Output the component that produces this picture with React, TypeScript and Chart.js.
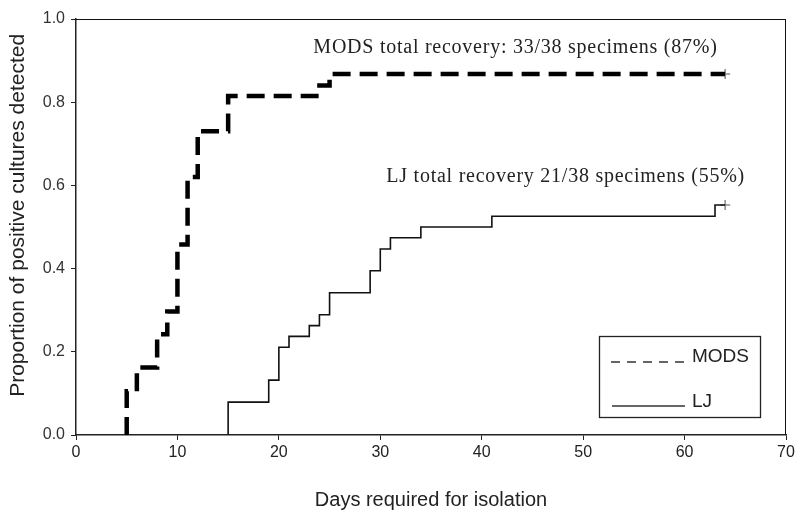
import React, { useEffect, useRef } from 'react';
import { Chart, registerables } from 'chart.js';

Chart.register(...registerables);

// ---- data ----
const modsDays = [5, 5, 6, 8, 9, 10, 11, 12, 15, 24, 25, 64];
const modsValues = [0, 0.105, 0.162, 0.242, 0.297, 0.458, 0.62, 0.73, 0.815, 0.84, 0.868, 0.868];
const ljDays = [15, 15, 19, 20, 21, 23, 24, 25, 29, 30, 31, 34, 41, 63, 64];
const ljValues = [0, 0.079, 0.132, 0.211, 0.237, 0.263, 0.289, 0.342, 0.395, 0.447, 0.474, 0.5, 0.526, 0.553, 0.553];
const censorDays = [64, 64];
const censorValues = [0.868, 0.553];
const seriesLabels = ['MODS', 'LJ'];
const annotationTexts = [
  'MODS total recovery: 33/38 specimens (87%)',
  'LJ total recovery 21/38 specimens (55%)',
];
const xTitle = 'Days required for isolation';
const yTitle = 'Proportion of positive cultures detected';
const xMin = 0;
const xMax = 70;
const xStep = 10;
const yMin = 0;
const yMax = 1;
const yStep = 0.2;

const SANS = '"Liberation Sans", Arial, Helvetica, sans-serif';
const SERIF = '"Liberation Serif", "Times New Roman", Times, serif';

const decorPlugin = {
  id: 'decor',
  afterDatasetsDraw(chart: any) {
    const { ctx, chartArea: a, scales } = chart;
    const xs = scales.x;
    const ys = scales.y;
    ctx.save();
    // frame top & right
    ctx.strokeStyle = '#111';
    ctx.lineWidth = 1;
    ctx.beginPath();
    ctx.moveTo(a.left, a.top + 0.5);
    ctx.lineTo(a.right, a.top + 0.5);
    ctx.moveTo(a.right - 0.5, a.top);
    ctx.lineTo(a.right - 0.5, a.bottom);
    ctx.stroke();

    // annotations
    ctx.fillStyle = '#222';
    ctx.font = '20px ' + SERIF;
    ctx.textBaseline = 'middle';
    ctx.textAlign = 'left';
    try { (ctx as any).letterSpacing = '0.75px'; } catch (e) {}
    ctx.fillText(annotationTexts[0], xs.getPixelForValue(23.4), ys.getPixelForValue(0.931));
    ctx.fillText(annotationTexts[1], xs.getPixelForValue(30.6), ys.getPixelForValue(0.621));
    try { (ctx as any).letterSpacing = '0px'; } catch (e) {}

    // legend box
    const bw = 161;
    const bh = 81;
    const bx = a.right - 26 - bw;
    const by = a.bottom - 18 - bh;
    ctx.strokeStyle = '#222';
    ctx.lineWidth = 1.3;
    ctx.strokeRect(bx + 0.5, by + 0.5, bw, bh);

    ctx.strokeStyle = '#333';
    ctx.lineWidth = 1.4;
    ctx.setLineDash([9, 7]);
    ctx.beginPath();
    ctx.moveTo(bx + 12, by + 26);
    ctx.lineTo(bx + 88, by + 26);
    ctx.stroke();
    ctx.setLineDash([]);
    ctx.beginPath();
    ctx.moveTo(bx + 13, by + 70);
    ctx.lineTo(bx + 86, by + 70);
    ctx.stroke();

    ctx.fillStyle = '#222';
    ctx.font = '19px ' + SANS;
    ctx.textBaseline = 'middle';
    ctx.fillText(seriesLabels[0], bx + 93, by + 21);
    ctx.fillText(seriesLabels[1], bx + 93, by + 66);
    ctx.restore();
  },
};

export default function App() {
  const ref = useRef<HTMLCanvasElement | null>(null);

  useEffect(() => {
    const canvas = ref.current;
    if (!canvas) return;
    const chart = new Chart(canvas, {
      type: 'line',
      data: {
        datasets: [
          {
            label: seriesLabels[0],
            data: modsDays.map((d, i) => ({ x: d, y: modsValues[i] })),
            borderColor: '#000',
            borderWidth: 4.5,
            borderDash: [18, 9],
            stepped: true,
            pointRadius: 0,
            fill: false,
            borderCapStyle: 'butt',
          },
          {
            label: seriesLabels[1],
            data: ljDays.map((d, i) => ({ x: d, y: ljValues[i] })),
            borderColor: '#111',
            borderWidth: 1.6,
            stepped: true,
            pointRadius: 0,
            fill: false,
          },
          {
            label: 'censored',
            data: censorDays.map((d, i) => ({ x: d, y: censorValues[i] })),
            showLine: false,
            pointStyle: 'cross',
            pointRadius: 5,
            pointBorderWidth: 1.5,
            pointBorderColor: '#8a8a8a',
            pointBackgroundColor: '#8a8a8a',
          },
        ],
      },
      options: {
        animation: false,
        responsive: true,
        maintainAspectRatio: false,
        devicePixelRatio: 1,
        layout: { padding: { top: 19, right: 14, left: 0, bottom: 0 } },
        plugins: {
          legend: { display: false },
          tooltip: { enabled: false },
        },
        scales: {
          x: {
            type: 'linear',
            min: xMin,
            max: xMax,
            afterFit: (s: any) => { s.height = 90; },
            ticks: {
              stepSize: xStep,
              color: '#222',
              font: { family: SANS, size: 16 },
              padding: 3,
              maxRotation: 0,
            },
            grid: { drawOnChartArea: false, drawTicks: true, tickLength: 5, color: '#222' },
            border: { display: true, color: '#222', width: 1.5 },
            title: {
              display: true,
              text: xTitle,
              color: '#222',
              font: { family: SANS, size: 20 },
              padding: { top: 0, bottom: 13 },
            },
          },
          y: {
            type: 'linear',
            min: yMin,
            max: yMax,
            afterFit: (s: any) => { s.width = 76; },
            ticks: {
              stepSize: yStep,
              color: '#333',
              font: { family: SANS, size: 16 },
              padding: 6,
              callback: (v: any) => Number(v).toFixed(1),
            },
            grid: { drawOnChartArea: false, drawTicks: true, tickLength: 5, color: '#222' },
            border: { display: true, color: '#222', width: 1.5 },
            title: {
              display: true,
              text: '    ' + yTitle,
              color: '#222',
              font: { family: SANS, size: 21 },
              padding: { top: 6, bottom: 0 },
            },
          },
        },
      },
      plugins: [decorPlugin],
    });
    return () => chart.destroy();
  }, []);

  return (
    <div style={{ position: 'fixed', left: 0, top: 0, width: 800, height: 525, background: '#fff' }}>
      <canvas ref={ref} />
    </div>
  );
}
